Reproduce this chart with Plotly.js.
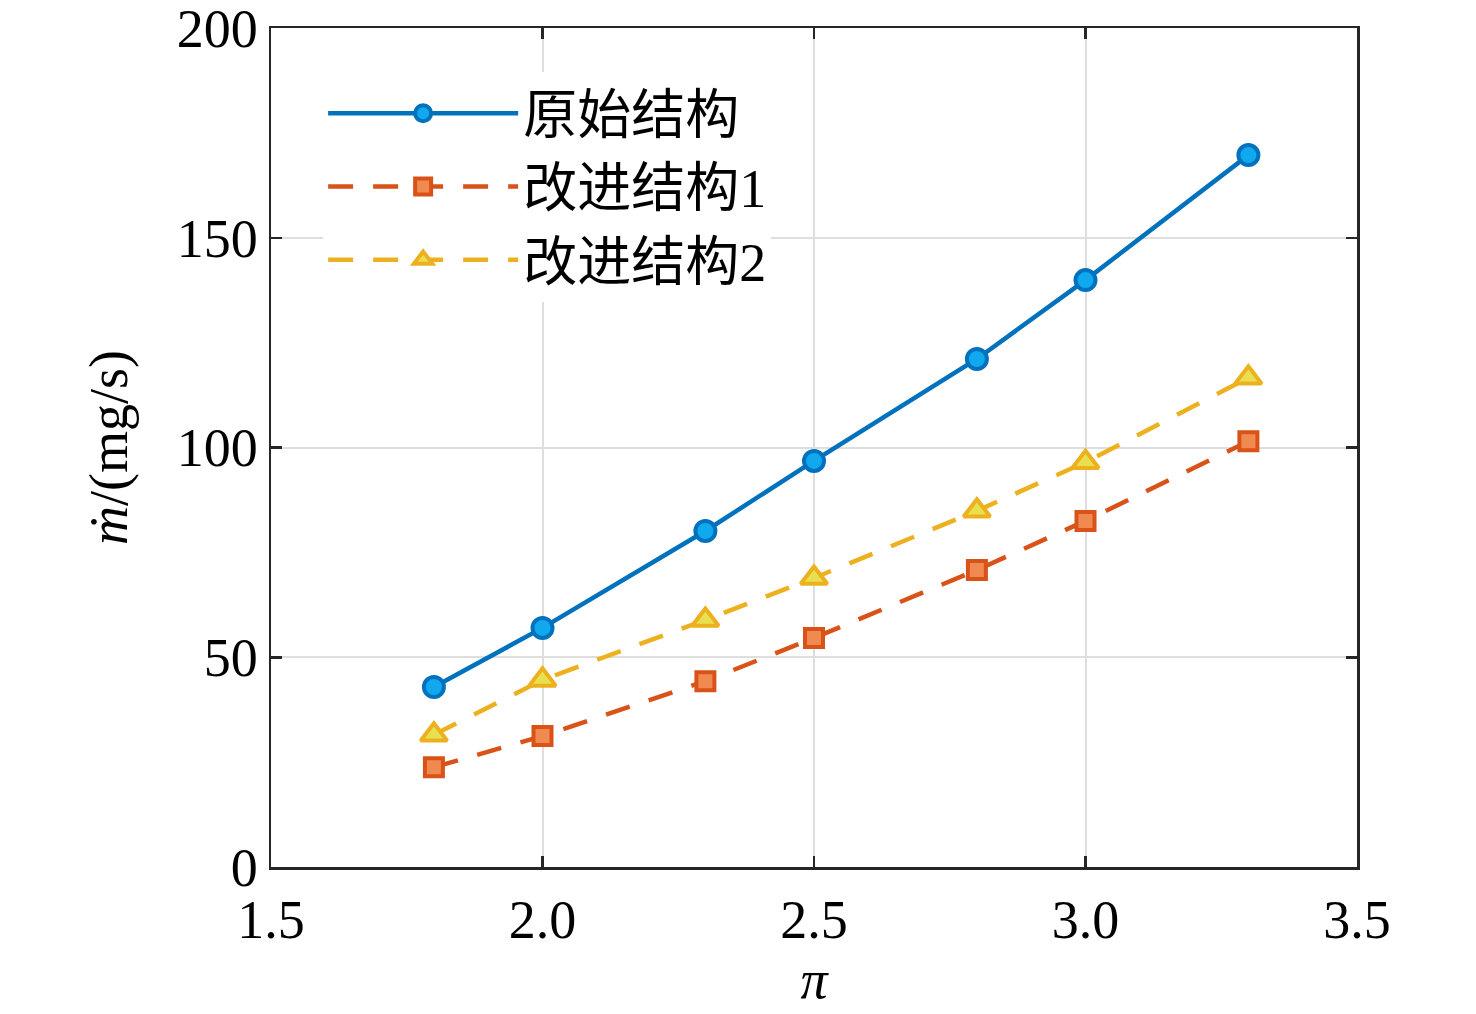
<!DOCTYPE html>
<html>
<head>
<meta charset="utf-8">
<script src="https://cdn.plot.ly/plotly-3.0.1.min.js"></script>
<style>
  html, body { margin: 0; padding: 0; background: #fff; }
  #chart { width: 1476px; height: 1014px; }
</style>
</head>
<body>
<div id="chart"></div>
<script>
// pressure ratio on x, mass flow (mg/s) on y
const pi_values = [1.8, 2.0, 2.3, 2.5, 2.8, 3.0, 3.3];
const flow_original = [42.9, 57.0, 80.1, 96.8, 121.1, 139.9, 169.7];
const flow_improved1 = [23.8, 31.2, 44.3, 54.6, 70.8, 82.5, 101.5];
const flow_improved2 = [31.5, 44.6, 58.9, 68.9, 84.9, 96.5, 116.6];
const series_names = ['原始结构', '改进结构1', '改进结构2'];
const x_ticks = [1.5, 2.0, 2.5, 3.0, 3.5];
const x_tick_labels = ['1.5', '2.0', '2.5', '3.0', '3.5'];
const y_ticks = [0, 50, 100, 150, 200];

const FONT = 'Liberation Serif, Times New Roman, Noto Sans CJK SC, serif';

var trace_original = {
    x: pi_values,
    y: flow_original,
    name: series_names[0],
    type: 'scatter',
    mode: 'lines+markers',
    line: {color: '#0072BD', width: 4.5},
    marker: {symbol: 'circle', size: 20, color: '#10a8ee', line: {color: '#0072BD', width: 4}},
};

var trace_improved1 = {
    x: pi_values,
    y: flow_improved1,
    name: series_names[1],
    type: 'scatter',
    mode: 'lines+markers',
    line: {color: '#D95319', width: 4.5, dash: '25px,20px'},
    marker: {symbol: 'square', size: 18, color: '#f08a50', line: {color: '#D95319', width: 4}},
};

var trace_improved2 = {
    x: pi_values,
    y: flow_improved2,
    name: series_names[2],
    type: 'scatter',
    mode: 'lines+markers',
    line: {color: '#EDB120', width: 4.5, dash: '25px,20px'},
    marker: {symbol: 'triangle-up', size: 23, color: '#e8e050', line: {color: '#EDB120', width: 4}},
};

var axis_common = {
    showline: true,
    linecolor: '#262626',
    linewidth: 2.5,
    mirror: 'ticks',
    ticks: 'inside',
    ticklen: 11,
    tickwidth: 2.5,
    tickcolor: '#262626',
    showgrid: true,
    gridcolor: '#dedede',
    gridwidth: 2,
    zeroline: false,
    ticklabeloverflow: 'allow',
    tickfont: {family: FONT, size: 54, color: '#000'},
};

var layout = {
    width: 1476,
    height: 1014,
    margin: {l: 271, r: 119, t: 28, b: 147},
    paper_bgcolor: '#fff',
    plot_bgcolor: '#fff',
    showlegend: true,
    legend: {
        x: 0.048,
        y: 0.948,
        xanchor: 'left',
        yanchor: 'top',
        bgcolor: '#fff',
        borderwidth: 0,
        itemwidth: 190,
        itemsizing: 'trace',
        tracegroupgap: 0,
        font: {family: FONT, size: 54, color: '#000'},
    },
    xaxis: Object.assign({}, axis_common, {
        range: [1.5, 3.5],
        tickvals: x_ticks,
        ticktext: x_tick_labels,
        ticklabelstandoff: 4,
        title: {text: '<i>π</i>', font: {family: FONT, size: 54, color: '#000'}, standoff: 8},
    }),
    yaxis: Object.assign({}, axis_common, {
        range: [0, 200],
        tickvals: y_ticks,
        title: {text: '<i>ṁ</i>/(mg/s)', font: {family: FONT, size: 54, color: '#000'}, standoff: 32},
    }),
};

Plotly.newPlot('chart', [trace_original, trace_improved1, trace_improved2], layout, {staticPlot: true, displayModeBar: false});
</script>
</body>
</html>
